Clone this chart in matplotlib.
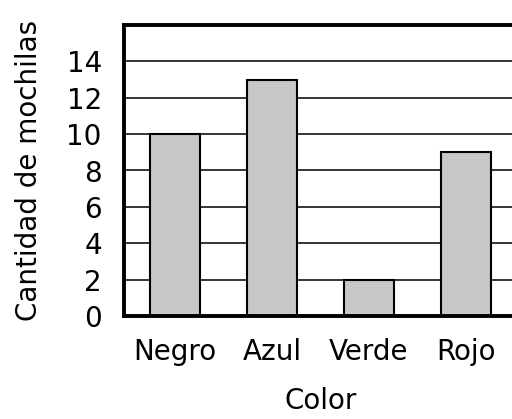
import matplotlib
matplotlib.use("Agg")
import matplotlib.pyplot as plt

colores = ["Negro", "Azul", "Verde", "Rojo"]
mochilas = [10, 13, 2, 9]
y_ticks = [0, 2, 4, 6, 8, 10, 12, 14]

plt.rcParams["font.family"] = ["DejaVu Sans"]

fig = plt.figure(figsize=(5.12, 4.19), dpi=100)
ax = fig.add_axes([124 / 512, 103 / 419, 393 / 512, 291 / 419])

ax.set_axisbelow(True)
ax.yaxis.grid(True, color="black", linewidth=1.1)
ax.bar(range(len(colores)), mochilas, width=0.52, color="#c6c7c9",
       edgecolor="black", linewidth=1.5, zorder=2)

ax.set_xlim(-0.526, len(colores) - 1 + 0.526)
ax.set_ylim(0, 16)
ax.set_yticks(y_ticks + [16])
ax.set_yticklabels([str(v) for v in y_ticks] + [""])
ax.set_xticks(range(len(colores)))
ax.set_xticklabels(colores)
ax.tick_params(axis="both", length=0, labelsize=20)
ax.tick_params(axis="y", pad=16)
ax.tick_params(axis="x", pad=16)

for s in ax.spines.values():
    s.set_linewidth(2.8)

ax.set_xlabel("Color", fontsize=20, labelpad=15)
ax.set_ylabel("Cantidad de mochilas", fontsize=20, labelpad=17)

fig.savefig("out.png", dpi=100)
